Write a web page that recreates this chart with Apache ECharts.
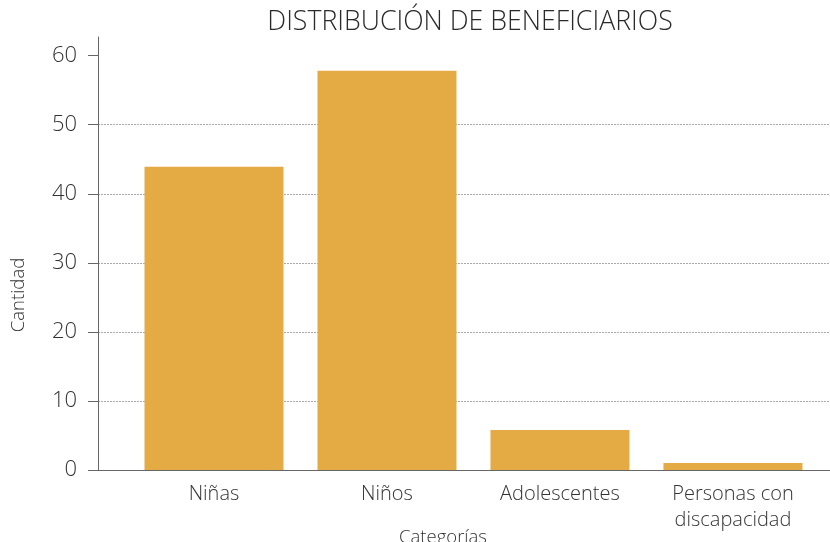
<!DOCTYPE html>
<html>
<head>
<meta charset="utf-8">
<script src="https://cdn.jsdelivr.net/npm/echarts@6/dist/echarts.min.js"></script>
<style>
  html, body { margin: 0; padding: 0; background: #fff; }
  #chart { width: 830px; height: 542px; }
</style>
</head>
<body>
<div id="chart"></div>
<script>
// datos
const categorias = ['Niñas', 'Niños', 'Adolescentes', 'Personas con\ndiscapacidad']
const cantidad = [43.9, 57.8, 5.8, 1.0]
const yTicks = [0, 10, 20, 30, 40, 50, 60]
const xTicks = [0, 1, 2, 3]

const fuente = '"Open Sans", "Noto Sans", sans-serif'
const chart = echarts.init(document.getElementById('chart'))

const option = {
  animation: false,
  textStyle: { fontFamily: fuente },
  title: {
    text: 'DISTRIBUCIÓN DE BENEFICIARIOS',
    left: 465,
    textAlign: 'center',
    top: 4,
    textStyle: { fontFamily: fuente, fontSize: 26.7, fontWeight: 300, color: '#2a2a2a' }
  },
  grid: { left: 98, right: 0, top: 37, bottom: 72, outerBoundsMode: 'none', containLabel: false },
  xAxis: {
    type: 'value',
    min: -0.6705,
    max: 3.561,
    name: 'Categorías',
    nameLocation: 'middle',
    nameGap: 58,
    nameMoveOverlap: false,
    nameTextStyle: { fontSize: 18.5, fontWeight: 300, color: '#333', padding: [0, 42, 0, 0] },
    axisLine: { show: true, onZero: false, lineStyle: { color: '#666', width: 1 } },
    axisTick: { show: false },
    splitLine: { show: false },
    axisLabel: {
      customValues: xTicks,
      formatter: v => categorias[Math.round(v)],
      fontSize: 20,
      fontWeight: 300,
      color: '#333',
      lineHeight: 26,
      margin: 11
    }
  },
  yAxis: {
    type: 'value',
    min: 0,
    max: 62.7,
    interval: 10,
    name: 'Cantidad',
    nameLocation: 'middle',
    nameRotate: 90,
    nameGap: 70,
    nameMoveOverlap: false,
    nameTextStyle: { fontSize: 18.5, fontWeight: 300, color: '#333', padding: [0, 83, 0, 0] },
    axisLine: { show: true, onZero: false, lineStyle: { color: '#666', width: 1 } },
    axisTick: { show: true, customValues: yTicks, length: 10, lineStyle: { color: '#666' } },
    axisLabel: { customValues: yTicks, fontSize: 22, fontWeight: 300, color: '#333', margin: 21 },
    splitLine: {
      show: true,
      showMinLine: false,
      showMaxLine: false,
      lineStyle: { color: '#aaa', type: [2, 1], width: 1 }
    }
  },
  series: [
    {
      type: 'bar',
      barWidth: 139,
      itemStyle: { color: '#E4AB45' },
      data: cantidad.map((v, i) => [xTicks[i], v])
    }
  ]
}
chart.setOption(option)
</script>
</body>
</html>
